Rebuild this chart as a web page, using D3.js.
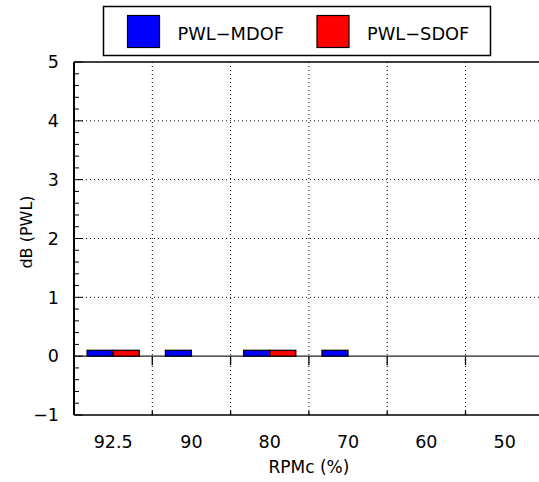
<!DOCTYPE html>
<html><head><meta charset="utf-8">
<script src="https://cdn.jsdelivr.net/npm/d3@7"></script>
<style>body{margin:0;background:#fff}svg{display:block}text{font-family:"DejaVu Sans",sans-serif;fill:#000}</style>
</head><body><svg id="c" width="539" height="482"></svg>
<script>
const categories = ["92.5", "90", "80", "70", "60", "50"];
const seriesNames = ["PWL\u2212MDOF", "PWL\u2212SDOF"];
const seriesColors = ["#0000ff", "#ff0000"];
const mdof = [0.1, 0.1, 0.1, 0.1, 0, 0];
const sdof = [0.1, 0, 0.1, 0, 0, 0];
const yTicks = [-1, 0, 1, 2, 3, 4, 5];
const xTitle = "RPMc (%)";
const yTitle = "dB (PWL)";

(function () {
const svg = d3.select("#c");
const pLeft = 74, pTop = 62, pBottom = 415, bandW = 78.3;
const pRight = pLeft + bandW * categories.length;

const x = d3.scaleBand().domain(categories).range([pLeft, pRight]).padding(0);
const x1 = d3.scaleBand().domain([0, 1]).range([x.bandwidth() / 6, x.bandwidth() * 5 / 6]).padding(0);
const y = d3.scaleLinear().domain([-1, 5]).range([pBottom, pTop]);

const g = svg.append("g");

// horizontal dotted grid
g.selectAll(".hg").data(yTicks.filter(v => v > 0 && v < 5)).join("line")
  .attr("x1", pLeft).attr("x2", pRight).attr("y1", d => y(d)).attr("y2", d => y(d))
  .attr("stroke", "#000").attr("stroke-width", 1).attr("stroke-dasharray", "1,3");

// vertical dotted separators
const seps = categories.slice(1).map(c => x(c));
g.selectAll(".vg").data(seps).join("line")
  .attr("x1", d => d).attr("x2", d => d).attr("y1", pTop).attr("y2", pBottom)
  .attr("stroke", "#000").attr("stroke-width", 1).attr("stroke-dasharray", "1,3");

// zero axis
g.append("line").attr("x1", pLeft).attr("x2", pRight).attr("y1", y(0)).attr("y2", y(0))
  .attr("stroke", "#222").attr("stroke-width", 1.2);

// solid separator ticks below zero line and at bottom
g.selectAll(".zt").data(seps).join("line")
  .attr("x1", d => d).attr("x2", d => d).attr("y1", y(0)).attr("y2", y(0) + 9)
  .attr("stroke", "#000").attr("stroke-width", 1.3);
g.selectAll(".bt").data(seps).join("line")
  .attr("x1", d => d).attr("x2", d => d).attr("y1", pBottom - 4).attr("y2", pBottom)
  .attr("stroke", "#000").attr("stroke-width", 1.3);

// bars
const data = categories.map((c, i) => ({ c, v: [mdof[i], sdof[i]] }));
const grp = g.selectAll(".grp").data(data).join("g").attr("transform", d => `translate(${x(d.c)},0)`);
grp.selectAll("rect").data(d => d.v.map((v, k) => ({ v, k }))).join("rect")
  .attr("x", d => x1(d.k)).attr("width", x1.bandwidth())
  .attr("y", d => y(Math.max(0, d.v))).attr("height", d => Math.abs(y(d.v) - y(0)))
  .attr("fill", d => seriesColors[d.k]).attr("stroke", "#000").attr("stroke-width", 1.2);

// y axis minor ticks
const minor = d3.range(-1, 5.0001, 0.2).map(v => +v.toFixed(1));
g.selectAll(".ymt").data(minor).join("line")
  .attr("x1", pLeft).attr("x2", d => pLeft + (Number.isInteger(d) ? 9 : 5))
  .attr("y1", d => y(d)).attr("y2", d => y(d))
  .attr("stroke", "#000").attr("stroke-width", 1);

// frame
g.append("line").attr("x1", pLeft).attr("x2", pRight).attr("y1", pTop).attr("y2", pTop).attr("stroke", "#000").attr("stroke-width", 1.5);
g.append("line").attr("x1", pLeft).attr("x2", pRight).attr("y1", pBottom).attr("y2", pBottom).attr("stroke", "#000").attr("stroke-width", 1.5);
g.append("line").attr("x1", pLeft).attr("x2", pLeft).attr("y1", pTop).attr("y2", pBottom).attr("stroke", "#000").attr("stroke-width", 2);

// y tick labels
g.selectAll(".yl").data(yTicks).join("text")
  .attr("x", 59).attr("y", d => y(d)).attr("dy", "0.36em").attr("text-anchor", "end")
  .attr("font-size", 17.5).text(d => d < 0 ? "\u2212" + Math.abs(d) : d);

// x tick labels
g.selectAll(".xl").data(categories).join("text")
  .attr("x", d => x(d) + x.bandwidth() / 2).attr("y", 448).attr("text-anchor", "middle")
  .attr("font-size", 17.5).text(d => d);

// axis titles
g.append("text").attr("x", (pLeft + pRight) / 2).attr("y", 473).attr("text-anchor", "middle")
  .attr("font-size", 17).text(xTitle);
g.append("text").attr("transform", `translate(32,232) rotate(-90)`).attr("text-anchor", "middle")
  .attr("font-size", 16).text(yTitle);

// legend
const lg = svg.append("g");
lg.append("rect").attr("x", 103.5).attr("y", 6.5).attr("width", 387).attr("height", 49)
  .attr("fill", "#fff").attr("stroke", "#000").attr("stroke-width", 1.5);
const lx = [127.5, 317];
seriesNames.forEach((n, k) => {
  lg.append("rect").attr("x", lx[k]).attr("y", 15.5).attr("width", 32).attr("height", 32)
    .attr("fill", seriesColors[k]).attr("stroke", "#000").attr("stroke-width", 1.2);
  lg.append("text").attr("x", lx[k] + 50).attr("y", 39.5).attr("font-size", 17.8).text(n);
});
})();
</script></body></html>
